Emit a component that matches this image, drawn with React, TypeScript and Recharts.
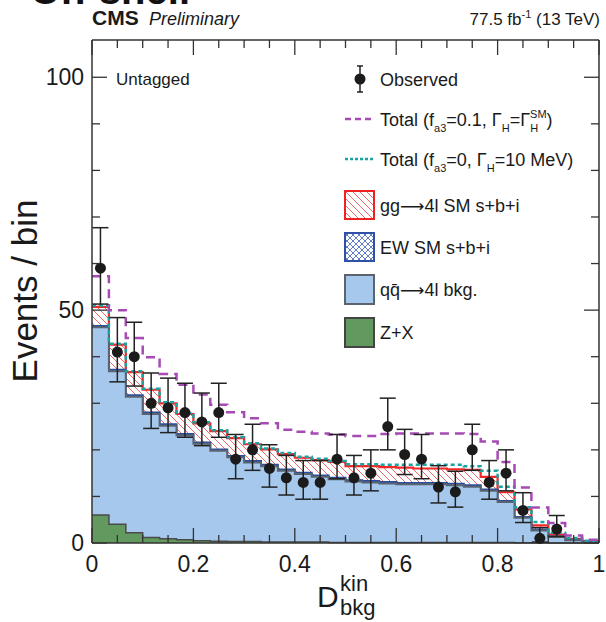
import React from 'react';
import { ComposedChart, Area, Line, Scatter, ErrorBar, XAxis, YAxis, Legend } from 'recharts';

const FONT = '"Liberation Sans", Arial, Helvetica, sans-serif';
const ARROW_FONT = '"DejaVu Sans", sans-serif';

// 30 bins in D_bkg^kin, values per bin (events / bin)
const binEdges = Array.from({ length: 31 }, (_, i) => i / 30);

const zPlusX = [6.0, 4.0, 2.2, 1.2, 0.9, 0.7, 0.5, 0.4, 0.3, 0.3, 0.2, 0.2, 0.2, 0.2, 0.1, 0.1, 0.1, 0.1, 0.1, 0.1, 0.1, 0.1, 0.1, 0.1, 0.1, 0.05, 0.05, 0, 0, 0];
const qqBkgTop = [46.3, 36.9, 31.4, 27.7, 25.2, 23.1, 21.3, 19.8, 18.4, 17.3, 16.5, 15.5, 14.8, 14.2, 13.7, 13.2, 13.0, 12.8, 12.6, 12.6, 12.6, 12.4, 12.1, 11.2, 8.8, 5.4, 2.7, 1.3, 0.6, 0.3];
const ewTop = [46.6, 37.2, 31.7, 28.0, 25.5, 23.4, 21.6, 20.1, 18.7, 17.6, 16.8, 15.8, 15.1, 14.5, 14.0, 13.5, 13.3, 13.1, 12.9, 12.9, 12.9, 12.7, 12.4, 11.5, 9.0, 5.6, 2.9, 1.4, 0.7, 0.4];
const ggTotal = [50.7, 42.6, 36.7, 32.9, 30.0, 27.7, 25.7, 24.0, 22.5, 21.2, 20.1, 19.1, 18.3, 17.8, 17.4, 16.5, 16.5, 16.3, 16.2, 16.0, 16.0, 15.8, 15.7, 14.2, 10.9, 7.2, 3.8, 1.8, 0.9, 0.4];
const totalFa3 = [57.3, 50.0, 44.0, 39.9, 36.3, 34.0, 31.9, 29.7, 28.1, 26.8, 25.7, 24.3, 23.9, 23.5, 23.3, 23.0, 23.0, 23.4, 23.5, 23.5, 23.5, 23.5, 23.4, 21.8, 17.4, 11.9, 7.6, 4.3, 1.6, 0.7];
const totalWidth10 = [51.0, 42.8, 36.9, 33.1, 30.2, 27.9, 25.9, 24.2, 22.7, 21.4, 20.3, 19.3, 18.5, 18.1, 17.6, 16.9, 16.9, 16.8, 16.8, 16.8, 16.8, 16.8, 16.5, 15.5, 12.1, 7.7, 4.5, 2.2, 1.1, 0.5];

// observed counts (bins 29, 30 are empty and not drawn)
const observed = [59, 41, 40, 30, 29, 28, 26, 28, 18, 20, 16, 14, 13, 13, 18, 14, 15, 25, 19, 18, 12, 11, 20, 13, 15, 7, 1, 3];
const obsErrLow = [7.7, 6.4, 6.3, 5.4, 5.3, 5.3, 5.1, 5.3, 4.2, 4.4, 4.0, 3.7, 3.6, 3.6, 4.2, 3.7, 3.8, 5.0, 4.3, 4.2, 3.4, 3.3, 4.4, 3.6, 3.8, 2.6, 0.8, 1.6];
const obsErrHigh = [8.7, 7.4, 7.4, 6.5, 6.4, 6.3, 6.2, 6.3, 5.3, 5.5, 5.1, 4.8, 4.7, 4.7, 5.3, 4.8, 5.0, 6.1, 5.4, 5.3, 4.6, 4.4, 5.5, 4.7, 5.0, 3.8, 2.3, 2.9];

const xTicks = [0, 0.05, 0.1, 0.15, 0.2, 0.25, 0.3, 0.35, 0.4, 0.45, 0.5, 0.55, 0.6, 0.65, 0.7, 0.75, 0.8, 0.85, 0.9, 0.95, 1];
const xMajor = [0, 0.2, 0.4, 0.6, 0.8, 1];
const yTicks = [0, 10, 20, 30, 40, 50, 60, 70, 80, 90, 100];
const yMajor = [0, 50, 100];

const rows = binEdges.map((x, i) => {
  const b = Math.min(i, 29);
  return {
    x,
    zx: zPlusX[b],
    qq: qqBkgTop[b],
    ew: ewTop[b],
    gg: ggTotal[b],
    fa3: totalFa3[b],
    w10: totalWidth10[b],
  };
});

const obsRows = observed.map((y, i) => ({
  x: (binEdges[i] + binEdges[i + 1]) / 2,
  y,
  err: [obsErrLow[i], obsErrHigh[i]],
}));

const isMajor = (v: number, list: number[]) => list.some((m) => Math.abs(m - v) < 1e-6);
const FRAME = '#333';
// frame edges (chart margins + axis sizes)
const W = 606;
const H = 622;
const LEFT_W = 92;
const RIGHT_W = 7;
const TOP_H = 40;
const BOTTOM_H = 79;
const PLOT_TOP = TOP_H;
const PLOT_RIGHT = W - RIGHT_W;

// bottom axis tick: inward tick at bottom and mirrored at top of the frame
const BottomTick = (props: any) => {
  const { x, y, payload } = props;
  const major = isMajor(payload.value, xMajor);
  const len = major ? 15 : 8;
  return (
    <g>
      <line x1={x} x2={x} y1={y} y2={y - len} stroke={FRAME} strokeWidth={1.3} />
      <line x1={x} x2={x} y1={PLOT_TOP} y2={PLOT_TOP + len} stroke={FRAME} strokeWidth={1.3} />
      {major && (
        <text x={x} y={y + 29} textAnchor="middle" fontFamily={FONT} fontSize={23} fill="#1a1a1a">
          {payload.value === 0 || payload.value === 1 ? String(payload.value) : payload.value.toFixed(1)}
        </text>
      )}
    </g>
  );
};

const LeftTick = (props: any) => {
  const { x, y, payload } = props;
  const major = isMajor(payload.value, yMajor);
  const len = major ? 15 : 8;
  return (
    <g>
      <line x1={x} x2={x + len} y1={y} y2={y} stroke={FRAME} strokeWidth={1.3} />
      <line x1={PLOT_RIGHT} x2={PLOT_RIGHT - len} y1={y} y2={y} stroke={FRAME} strokeWidth={1.3} />
      {major && (
        <text x={x - 8} y={y + 8} textAnchor="end" fontFamily={FONT} fontSize={23} fill="#1a1a1a">
          {payload.value}
        </text>
      )}
    </g>
  );
};

const ObsDot = (props: any) => <circle cx={props.cx} cy={props.cy} r={5.5} fill="#1b1b1b" />;

const Arrow = () => (
  <tspan fontFamily={ARROW_FONT} fontSize={17}>⟶</tspan>
);

const LegendBox = () => {
  const tx = 45;
  const fs = 18;
  const sub = 11;
  return (
    <svg width={270} height={300} style={{ overflow: 'visible' }}>
      <defs>
        <pattern id="ggHatchL" patternUnits="userSpaceOnUse" width="7" height="7">
          <rect width="7" height="7" fill="#fff" />
          <path d="M0,0 L7,7 M-1,6 L1,8 M6,-1 L8,1" stroke="#f06a6a" strokeWidth={1} />
        </pattern>
        <pattern id="ewCrossL" patternUnits="userSpaceOnUse" width="6" height="6">
          <rect width="6" height="6" fill="#fff" />
          <path d="M0,0 L6,6 M6,0 L0,6" stroke="#3a5ab8" strokeWidth={0.8} />
        </pattern>
      </defs>
      <g fontFamily={FONT} fill="#1a1a1a" fontSize={fs}>
        {/* Observed */}
        <line x1={25} x2={25} y1={11} y2={37} stroke="#222" strokeWidth={1.5} />
        <line x1={22} x2={28} y1={11} y2={11} stroke="#222" strokeWidth={1.5} />
        <line x1={22} x2={28} y1={37} y2={37} stroke="#222" strokeWidth={1.5} />
        <circle cx={25} cy={24} r={5.5} fill="#1b1b1b" />
        <text x={tx} y={31}>Observed</text>

        {/* purple */}
        <line x1={10} x2={39} y1={64} y2={64} stroke="#a64ab4" strokeWidth={2.5} strokeDasharray="6 4" />
        <text x={tx} y={71}>
          Total (f<tspan fontSize={sub} dy={6}>a3</tspan>
          <tspan dy={-6}>=0.1, Γ</tspan>
          <tspan fontSize={sub} dy={6}>H</tspan>
          <tspan dy={-6}>=Γ</tspan>
          <tspan fontSize={sub} dy={6}>H</tspan>
          <tspan fontSize={sub} dx={-8} dy={-14}>SM</tspan>
          <tspan dy={8}>)</tspan>
        </text>

        {/* cyan */}
        <line x1={10} x2={39} y1={104} y2={104} stroke="#1aa3a3" strokeWidth={2.5} strokeDasharray="3 2" />
        <text x={tx} y={111}>
          Total (f<tspan fontSize={sub} dy={6}>a3</tspan>
          <tspan dy={-6}>=0, Γ</tspan>
          <tspan fontSize={sub} dy={6}>H</tspan>
          <tspan dy={-6}>=10 MeV)</tspan>
        </text>

        <rect x={10} y={136} width={29} height={28} fill="url(#ggHatchL)" stroke="#ee2222" strokeWidth={2} />
        <text x={tx} y={157}>gg<Arrow />4l SM s+b+i</text>

        <rect x={10} y={178} width={29} height={28} fill="url(#ewCrossL)" stroke="#3050a8" strokeWidth={2} />
        <text x={tx} y={199}>EW SM s+b+i</text>

        <rect x={10} y={220} width={29} height={29} fill="#a5c8ec" stroke="#5a6470" strokeWidth={2} />
        <text x={tx} y={241}>qq̄<Arrow />4l bkg.</text>

        <rect x={10} y={263} width={29} height={29} fill="#62995f" stroke="#444" strokeWidth={2} />
        <text x={tx} y={284}>Z+X</text>
      </g>
    </svg>
  );
};

export default function App() {
  return (
    <div style={{ position: 'absolute', left: 0, top: 0, width: W, height: H, background: '#fff' }}>
      <ComposedChart width={W} height={H} data={rows} margin={{ top: 0, right: 0, bottom: 0, left: 0 }}>
        <defs>
          <pattern id="ggHatch" patternUnits="userSpaceOnUse" width="7" height="7">
            <rect width="7" height="7" fill="#fff" />
            <path d="M0,0 L7,7 M-1,6 L1,8 M6,-1 L8,1" stroke="#f06a6a" strokeWidth={1} />
          </pattern>
          <pattern id="ewCross" patternUnits="userSpaceOnUse" width="6" height="6">
            <rect width="6" height="6" fill="#fff" />
            <path d="M0,0 L6,6 M6,0 L0,6" stroke="#3a5ab8" strokeWidth={0.8} />
          </pattern>
        </defs>

        <XAxis
          dataKey="x"
          type="number"
          domain={[0, 1]}
          ticks={xTicks}
          interval={0}
          tick={<BottomTick />}
          tickLine={false}
          tickSize={0}
          tickMargin={0}
          height={BOTTOM_H}
          axisLine={{ stroke: FRAME, strokeWidth: 1.5 }}
        />
        <XAxis
          xAxisId="top"
          orientation="top"
          type="number"
          domain={[0, 1]}
          tick={false}
          tickLine={false}
          height={TOP_H}
          axisLine={{ stroke: FRAME, strokeWidth: 1.5 }}
        />
        <YAxis
          type="number"
          domain={[0, 108]}
          ticks={yTicks}
          interval={0}
          tick={<LeftTick />}
          tickLine={false}
          tickSize={0}
          tickMargin={0}
          width={LEFT_W}
          axisLine={{ stroke: FRAME, strokeWidth: 1.5 }}
        />
        <YAxis
          yAxisId="right"
          orientation="right"
          type="number"
          domain={[0, 108]}
          tick={false}
          tickLine={false}
          width={RIGHT_W}
          axisLine={{ stroke: FRAME, strokeWidth: 1.5 }}
        />

        <Area type="stepAfter" dataKey="gg" stroke="#f02828" strokeWidth={2.2} fill="url(#ggHatch)" fillOpacity={1} dot={false} activeDot={false} isAnimationActive={false} />
        <Area type="stepAfter" dataKey="ew" stroke="#2a4d9c" strokeWidth={2} fill="url(#ewCross)" fillOpacity={1} dot={false} activeDot={false} isAnimationActive={false} />
        <Area type="stepAfter" dataKey="qq" stroke="#5a6470" strokeWidth={2} fill="#a5c8ec" fillOpacity={1} dot={false} activeDot={false} isAnimationActive={false} />
        <Area type="stepAfter" dataKey="zx" stroke="#4a4a4a" strokeWidth={1.5} fill="#62995f" fillOpacity={1} dot={false} activeDot={false} isAnimationActive={false} />

        <Line type="stepAfter" dataKey="w10" stroke="#1aa3a3" strokeWidth={2.5} strokeDasharray="4 3" dot={false} activeDot={false} isAnimationActive={false} />
        <Line type="stepAfter" dataKey="fa3" stroke="#a64ab4" strokeWidth={2.5} strokeDasharray="9 6" dot={false} activeDot={false} isAnimationActive={false} />

        <Scatter data={obsRows} dataKey="y" shape={<ObsDot />} isAnimationActive={false}>
          <ErrorBar dataKey="err" direction="y" width={8} stroke="#222" strokeWidth={1.5} />
        </Scatter>

        <Legend
          layout="horizontal"
          verticalAlign="middle"
          align="center"
          content={() => <LegendBox />}
          wrapperStyle={{ position: 'absolute', left: 335, top: 55, width: 270, height: 300 }}
        />

        <text x={30} y={4} fontFamily={FONT} fontWeight="bold" fontSize={40} fill="#111">On-shell</text>
        <text x={92} y={25} fontFamily={FONT} fontWeight="bold" fontSize={21} fill="#1a1a1a">CMS</text>
        <text x={149} y={25} fontFamily={FONT} fontStyle="italic" fontSize={18} fill="#1a1a1a">Preliminary</text>
        <text x={600} y={25} textAnchor="end" fontFamily={FONT} fontSize={17} fill="#1a1a1a">
          77.5 fb<tspan fontSize={11} dy={-7}>-1</tspan>
          <tspan dy={7}> (13 TeV)</tspan>
        </text>
        <text x={116} y={85} fontFamily={FONT} fontSize={17} fill="#1a1a1a">Untagged</text>
        <text x={37} y={291} transform="rotate(-90 37 291)" textAnchor="middle" fontFamily={FONT} fontSize={35} fill="#1a1a1a">
          Events / bin
        </text>
        <text x={317} y={607} fontFamily={FONT} fontSize={30} fill="#1a1a1a">D</text>
        <text x={340} y={591} fontFamily={FONT} fontSize={22} fill="#1a1a1a">kin</text>
        <text x={340} y={615} fontFamily={FONT} fontSize={22} fill="#1a1a1a">bkg</text>
      </ComposedChart>
    </div>
  );
}
